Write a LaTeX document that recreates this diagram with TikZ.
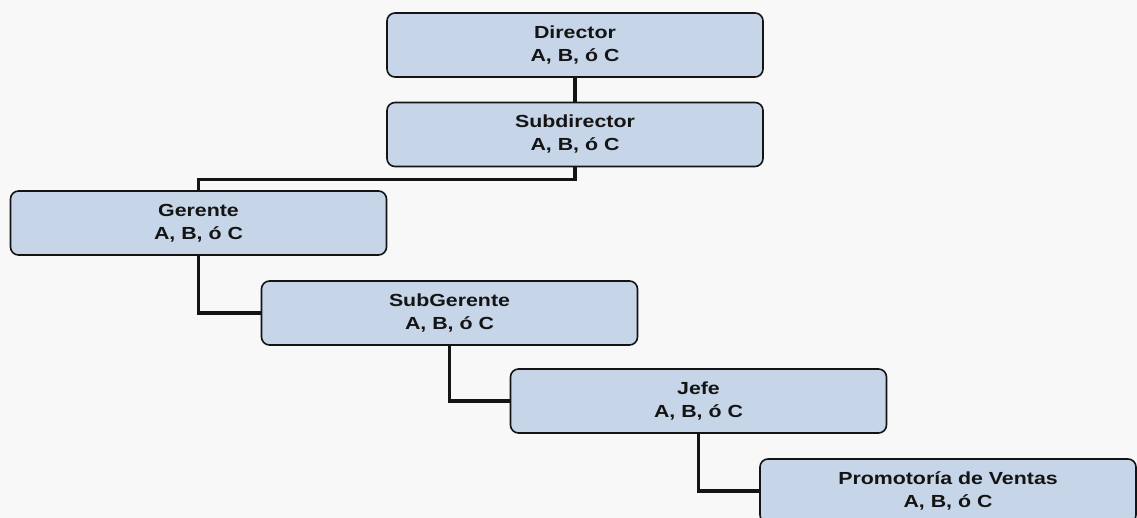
\documentclass[tikz,border=0pt]{standalone}
\usepackage{fontspec}
\setmainfont{Liberation Sans}[FakeStretch=1.22]
\definecolor{boxfill}{RGB}{198,214,232}
\definecolor{paper}{RGB}{248,248,248}
\definecolor{ink}{RGB}{20,20,20}
\begin{document}
\begin{tikzpicture}[x=1pt,y=-1pt,
  rolebox/.style={draw=ink, line width=1.6pt, rounded corners=8pt, fill=boxfill,
    minimum width=376pt, minimum height=64pt, inner sep=0pt, align=center,
    font=\bfseries\fontsize{17.5}{23}\selectfont, text=ink},
  link/.style={draw=ink, line width=3.5pt}]
% page
\fill[paper] (0,0) rectangle (1137,518);
\useasboundingbox (0,0) rectangle (1137,518);

% positions
\node[rolebox] (dir)  at (575,45)    {Director\\A, B, ó C};
\node[rolebox] (sub)  at (575,134.5) {Subdirector\\A, B, ó C};
\node[rolebox] (ger)  at (198.5,223) {Gerente\\A, B, ó C};
\node[rolebox] (subg) at (449.5,313) {SubGerente\\A, B, ó C};
\node[rolebox] (jefe) at (698.5,401) {Jefe\\A, B, ó C};
\node[rolebox] (prom) at (948,491)   {Promotoría de Ventas\\A, B, ó C};

% reporting lines
\draw[link] (dir.south) -- (sub.north);
\draw[link] (sub.south) -- ++(0,12) -| (ger.north);
\draw[link] (ger.south) |- (subg.west);
\draw[link] (subg.south) |- (jefe.west);
\draw[link] (jefe.south) |- (prom.west);
\end{tikzpicture}
\end{document}
